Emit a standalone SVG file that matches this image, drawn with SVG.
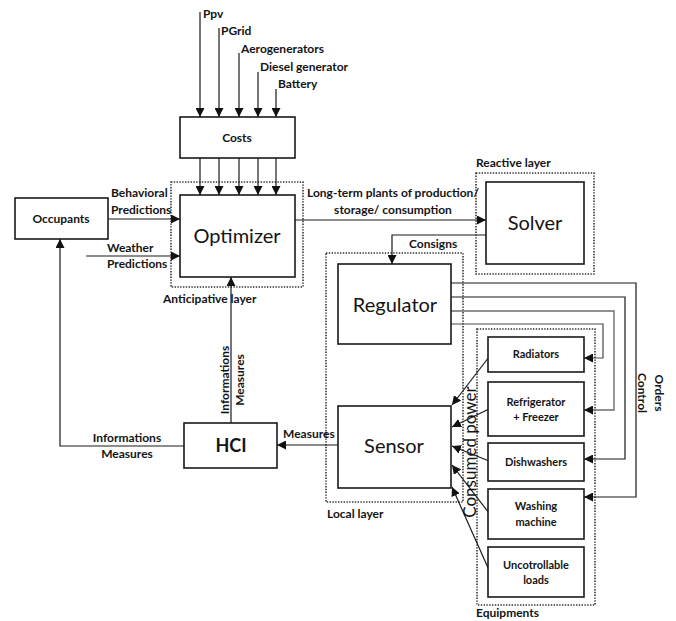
<svg xmlns="http://www.w3.org/2000/svg" width="676" height="621" viewBox="0 0 676 621">
<defs>
<style>
.box{fill:#fff;stroke:#1a1a1a;stroke-width:1.6}
.dot{fill:none;stroke:#333;stroke-width:1.6;stroke-dasharray:1.4 1.4}
.ln{fill:none;stroke:#1a1a1a;stroke-width:1.2}
.gr{fill:none;stroke:#6e6e6e;stroke-width:1.4}
.dk{fill:none;stroke:#4a4a4a;stroke-width:1.2}
text{font-family:"Lato","Open Sans","Liberation Sans",sans-serif;fill:#141414}
.b{font-weight:bold;font-size:12px}
.s{font-weight:bold;font-size:11px}
.big{font-size:20px}
.m{text-anchor:middle}
</style>
<marker id="ah" viewBox="0 0 10 10" refX="10" refY="5" markerWidth="9" markerHeight="9" markerUnits="userSpaceOnUse" orient="auto">
<path d="M0,0 L10,5 L0,10 z" fill="#111"/>
</marker>
</defs>
<rect width="676" height="621" fill="#fff"/>

<g id="layers">
<rect class="dot" x="171" y="182" width="132" height="105"/>
<rect class="dot" x="476" y="173" width="118" height="101"/>
<rect class="dot" x="326" y="253" width="137" height="249"/>
<rect class="dot" x="477" y="329" width="118" height="276"/>
<text class="b" x="163" y="303">Anticipative layer</text>
<text class="b" x="476" y="167">Reactive layer</text>
<text class="b" x="327" y="518">Local layer</text>
<text class="b" x="476" y="617">Equipments</text>
</g>

<g id="connectors">
<line class="ln" x1="200" y1="12" x2="200" y2="117" marker-end="url(#ah)"/>
<line class="ln" x1="219" y1="28" x2="219" y2="117" marker-end="url(#ah)"/>
<line class="ln" x1="239" y1="53" x2="239" y2="117" marker-end="url(#ah)"/>
<line class="ln" x1="258" y1="72" x2="258" y2="117" marker-end="url(#ah)"/>
<line class="ln" x1="276" y1="89" x2="276" y2="117" marker-end="url(#ah)"/>
<line class="ln" x1="200" y1="158" x2="200" y2="195" marker-end="url(#ah)"/>
<line class="ln" x1="219" y1="158" x2="219" y2="195" marker-end="url(#ah)"/>
<line class="ln" x1="239" y1="158" x2="239" y2="195" marker-end="url(#ah)"/>
<line class="ln" x1="258" y1="158" x2="258" y2="195" marker-end="url(#ah)"/>
<line class="ln" x1="276" y1="158" x2="276" y2="195" marker-end="url(#ah)"/>
<line class="ln" x1="108" y1="219" x2="180" y2="219" marker-end="url(#ah)"/>
<line class="ln" x1="86" y1="256" x2="180" y2="256" marker-end="url(#ah)"/>
<line class="ln" x1="295" y1="220" x2="486" y2="220" marker-end="url(#ah)"/>
<polyline class="ln" points="486,235 392,235 392,264" marker-end="url(#ah)"/>
<line class="ln" x1="231" y1="423" x2="231" y2="277" marker-end="url(#ah)"/>
<line class="ln" x1="338" y1="445" x2="277" y2="445" marker-end="url(#ah)"/>
<polyline class="ln" points="184,446 60,446 60,239" marker-end="url(#ah)"/>
<polyline class="ln" points="451,283 636,283 636,497 584,497" marker-end="url(#ah)"/>
<polyline class="ln" points="451,297 625,297 625,459 584,459" marker-end="url(#ah)"/>
<polyline class="gr" points="451,311 614,311 614,410 584,410" marker-end="url(#ah)"/>
<polyline class="dk" points="451,324 603,324 603,358 584,358" marker-end="url(#ah)"/>
<line class="ln" x1="489" y1="357" x2="452" y2="405" marker-end="url(#ah)"/>
<line class="ln" x1="489" y1="409" x2="452" y2="427" marker-end="url(#ah)"/>
<line class="ln" x1="489" y1="461" x2="452" y2="446" marker-end="url(#ah)"/>
<line class="ln" x1="489" y1="513" x2="452" y2="465" marker-end="url(#ah)"/>
<line class="ln" x1="489" y1="570" x2="452" y2="487" marker-end="url(#ah)"/>
<text class="b" x="203" y="18">Ppv</text>
<text class="b" x="221" y="35">PGrid</text>
<text class="b" x="241" y="53">Aerogenerators</text>
<text class="b" x="260" y="71">Diesel generator</text>
<text class="b" x="278" y="88">Battery</text>
<text class="b" x="111" y="197">Behavioral</text>
<text class="b" x="111" y="214">Predictions</text>
<text class="b" x="107" y="252">Weather</text>
<text class="b" x="107" y="268">Predictions</text>
<text class="b m" x="393" y="197">Long-term plants of production/</text>
<text class="b m" x="393" y="214">storage/ consumption</text>
<text class="b" x="409" y="248">Consigns</text>
<text class="b" x="283" y="438">Measures</text>
<text class="b m" x="127" y="442">Informations</text>
<text class="b m" x="127" y="458">Measures</text>
<text class="b m" transform="translate(229,380) rotate(-90)">Informations</text>
<text class="b m" transform="translate(244,380) rotate(-90)">Measures</text>
<text class="b m" transform="translate(655,393) rotate(90)">Orders</text>
<text class="b m" transform="translate(638,393) rotate(90)">Control</text>
<text class="m" font-size="17" transform="translate(476,452) rotate(-90)">Consumed power</text>
</g>

<g id="costs"><rect class="box" x="180" y="117" width="115" height="41"/><text class="b m" x="237" y="142">Costs</text></g>
<g id="optimizer"><rect class="box" x="180" y="195" width="115" height="82"/><text class="big m" x="237" y="243">Optimizer</text></g>
<g id="occupants"><rect class="box" x="15" y="198" width="93" height="41"/><text class="b m" x="61" y="223">Occupants</text></g>
<g id="solver"><rect class="box" x="486" y="182" width="98" height="82"/><text class="big m" x="535" y="230">Solver</text></g>
<g id="regulator"><rect class="box" x="338" y="264" width="113" height="80"/><text class="big m" x="395" y="312">Regulator</text></g>
<g id="sensor"><rect class="box" x="338" y="406" width="113" height="82"/><text class="big m" x="394" y="453">Sensor</text></g>
<g id="hci"><rect class="box" x="184" y="423" width="93" height="45"/><text class="m" font-weight="bold" font-size="18" x="231" y="452">HCI</text></g>
<g id="radiators"><rect class="box" x="488" y="337" width="96" height="35"/><text class="s m" x="536" y="358">Radiators</text></g>
<g id="refrigerator"><rect class="box" x="488" y="382" width="96" height="54"/><text class="s m" x="536" y="406">Refrigerator</text><text class="s m" x="536" y="421">+ Freezer</text></g>
<g id="dishwashers"><rect class="box" x="488" y="443" width="96" height="38"/><text class="s m" x="536" y="466">Dishwashers</text></g>
<g id="washing"><rect class="box" x="488" y="489" width="96" height="50"/><text class="s m" x="536" y="510">Washing</text><text class="s m" x="536" y="526">machine</text></g>
<g id="uncontrollable"><rect class="box" x="488" y="547" width="96" height="50"/><text class="s m" x="536" y="569">Uncotrollable</text><text class="s m" x="536" y="584">loads</text></g>
</svg>
